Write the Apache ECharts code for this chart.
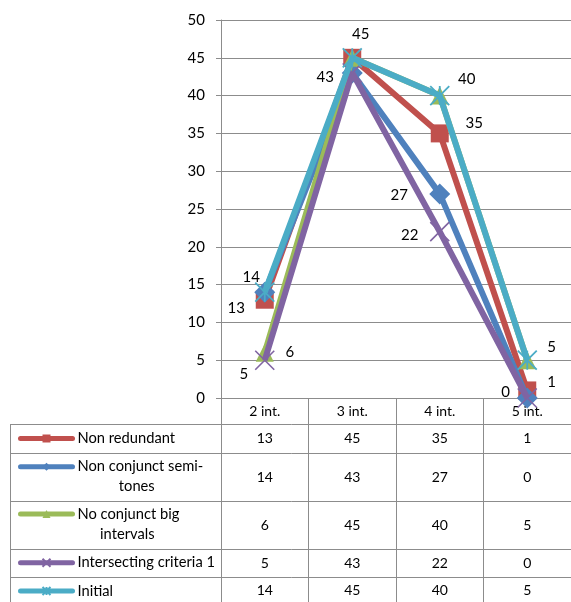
<!DOCTYPE html>
<html><head><meta charset="utf-8">
<script src="https://cdn.jsdelivr.net/npm/echarts@6/dist/echarts.min.js"></script>
<style>html,body{margin:0;padding:0;background:#fff}#c{width:571px;height:602px}</style>
</head><body><div id="c"></div>
<script>
// ---- data ----
const categories = ['2 int.', '3 int.', '4 int.', '5 int.'];
const seriesNames = ['Non redundant', 'Non conjunct semi-tones', 'No conjunct big intervals', 'Intersecting criteria 1', 'Initial'];
const nonRedundant = [13, 45, 35, 1];
const nonConjunctSemitones = [14, 43, 27, 0];
const noConjunctBigIntervals = [6, 45, 40, 5];
const intersectingCriteria1 = [5, 43, 22, 0];
const initial = [14, 45, 40, 5];
const yMin = 0, yMax = 50, yStep = 5;

// ---- style ----
const FONT = 'Lato';
const GRAY = '#8c8c8c';
const colors = ['#C0504D', '#4F81BD', '#9BBB59', '#8064A2', '#4BACC6'];
const allValues = [nonRedundant, nonConjunctSemitones, noConjunctBigIntervals, intersectingCriteria1, initial];
const symbols = ['rect', 'diamond', 'triangle',
  'path://M0,0 L10,10 M10,0 L0,10',
  'path://M0,0 L10,10 M10,0 L0,10 M5,0 L5,10'];
const symbolSizes = [18, 21, 18, 19, 19];
const strokeWidths = [0, 0, 0, 1.6, 1.8];
// label offsets (px from the point) — null means no label shown
const labelOffsets = [
  [[-28.5, 8.6], null, [34.5, -10.7], [24.3, -8]],
  [null, [-27, 4], [-40.5, 1], [-21.7, -5.7]],
  [[25, 0], null, null, null],
  [[-21, 14], null, [-30, 3], null],
  [[-13.5, -15.5], [8.5, -23.5], [27, -16], [24.3, -13]]
];
const legendNames = ['Non redundant', '\u00a0\nNon conjunct semi-\n           tones', '\u00a0\nNo conjunct big\n      intervals', 'Intersecting criteria 1', 'Initial'];
const legendIconCenters = [438.5, 466.7, 514, 562.7, 591];
const twoLine = [false, true, true, false, false];
const rowMargins = [40.5, 79, 127, 165, 192];
const tableRows = [424, 453, 501, 549, 577];

const chart = echarts.init(document.getElementById('c'), null, {renderer: 'canvas'});

const series = allValues.map((vals, s) => ({
  name: seriesNames[s],
  type: 'line',
  xAxisIndex: 0,
  data: vals.map((v, i) => {
    const off = labelOffsets[s][i];
    return {
      value: v,
      label: off ? {show: true, position: 'inside', offset: off, color: '#000',
        fontSize: 15, fontFamily: FONT, textBorderWidth: 0} : {show: false}
    };
  }),
  symbol: symbols[s],
  symbolSize: symbolSizes[s],
  showAllSymbol: true,
  lineStyle: {width: 6, color: colors[s]},
  itemStyle: {color: colors[s], borderColor: colors[s], borderWidth: strokeWidths[s]},
  emphasis: {disabled: true},
  animation: false,
  z: 2 + s
}));

const xAxes = [{
  type: 'category', gridIndex: 0, data: categories, boundaryGap: true, position: 'bottom',
  axisLine: {show: true, lineStyle: {color: GRAY, width: 1}},
  axisTick: {show: true, length: 210, interval: 0, lineStyle: {color: GRAY, width: 1}},
  axisLabel: {margin: 13, verticalAlign: 'middle', fontSize: 14, fontFamily: FONT, color: '#000', interval: 0},
  splitLine: {show: false}
}];
allValues.forEach((vals, s) => {
  xAxes.push({
    type: 'category', gridIndex: 0, data: vals.map(String), boundaryGap: true, position: 'bottom', offset: 0,
    axisLine: {show: false}, axisTick: {show: false}, splitLine: {show: false},
    axisLabel: {margin: rowMargins[s], verticalAlign: 'middle', fontSize: 14, fontFamily: FONT, color: '#000', interval: 0}
  });
});

const legends = seriesNames.map((n, i) => ({
  data: [n],
  left: 18,
  top: twoLine[i] ? legendIconCenters[i] - 30 : legendIconCenters[i] - 10,
  padding: 0, itemGap: 0, itemWidth: 52, itemHeight: 10,
  selectedMode: false,
  lineStyle: {width: 5, cap: 'round'},
  formatter: () => legendNames[i],
  textStyle: {fontSize: 14.7, fontFamily: FONT, color: '#000', lineHeight: 20}
}));

const lines = tableRows.map(y => ({
  type: 'line', silent: true,
  shape: {x1: 10.5, y1: y + 0.5, x2: 575, y2: y + 0.5},
  style: {stroke: GRAY, lineWidth: 1}
}));
lines.push({type: 'line', silent: true, shape: {x1: 10.5, y1: tableRows[0], x2: 10.5, y2: 610},
  style: {stroke: GRAY, lineWidth: 1}});

chart.setOption({
  animation: false,
  backgroundColor: '#fff',
  textStyle: {fontFamily: FONT},
  grid: {left: 221, top: 20, width: 354, height: 378, containLabel: false},
  xAxis: xAxes,
  yAxis: {
    type: 'value', min: yMin, max: yMax, interval: yStep,
    axisLine: {show: true, lineStyle: {color: GRAY, width: 1}},
    axisTick: {show: true, length: 5, lineStyle: {color: GRAY}},
    splitLine: {show: true, lineStyle: {color: GRAY, width: 1}},
    axisLabel: {margin: 16, fontSize: 15, fontFamily: FONT, color: '#000'}
  },
  legend: legends,
  series: series,
  graphic: lines
});
</script></body></html>
